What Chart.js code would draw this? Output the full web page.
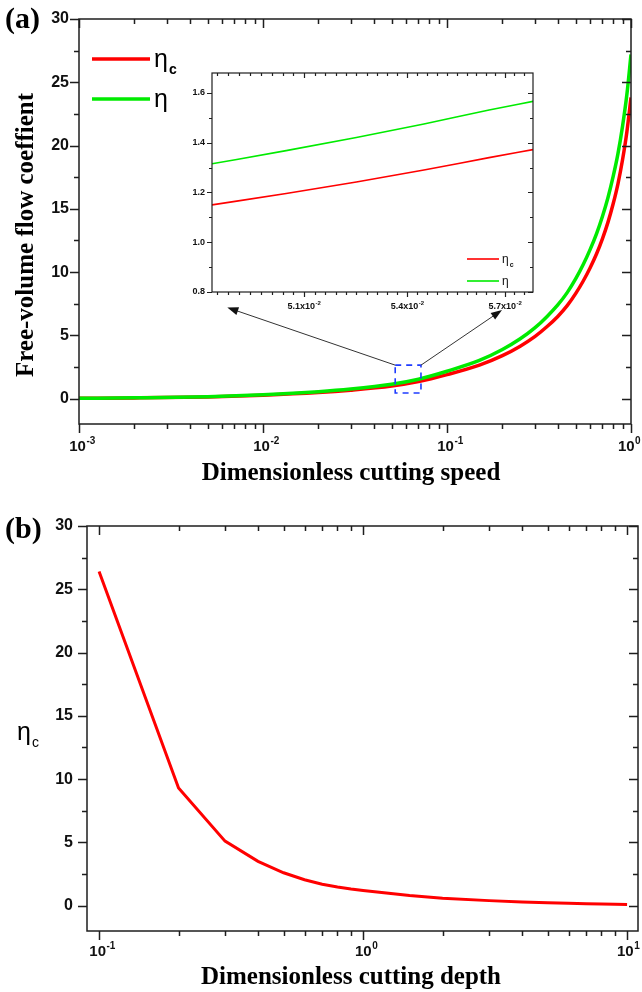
<!DOCTYPE html>
<html>
<head>
<meta charset="utf-8">
<script src="https://cdn.jsdelivr.net/npm/chart.js@4.4.1/dist/chart.umd.min.js"></script>
<style>
  body { margin: 0; background: #fff; }
  #page { position: relative; width: 642px; height: 992px; }
  canvas { position: absolute; }
</style>
</head>
<body>
<div id="page">
  <canvas id="chartA" width="642" height="490" style="left:0;top:0"></canvas>
  <canvas id="inset" width="360" height="260" style="left:180px;top:60px"></canvas>
  <canvas id="chartB" width="642" height="492" style="left:0;top:500px"></canvas>
</div>
<script>
// panel (a): free-volume flow coefficient vs dimensionless cutting speed
const speed = [0.001, 0.002, 0.005, 0.01, 0.02, 0.03, 0.05, 0.07, 0.1, 0.15, 0.2, 0.25, 0.3, 0.35, 0.4, 0.45, 0.5,
               0.55, 0.6, 0.65, 0.7, 0.75, 0.8, 0.85, 0.9, 0.95, 1.0];
const etaC  = [0.03, 0.06, 0.14, 0.27, 0.48, 0.67, 1.0, 1.35, 1.9, 2.65, 3.4, 4.15, 4.9, 5.7, 6.5, 7.35, 8.3,
               9.3, 10.35, 11.45, 12.65, 13.95, 15.4, 17.0, 18.9, 21.1, 23.8];
const eta   = [0.03, 0.07, 0.16, 0.31, 0.55, 0.76, 1.14, 1.54, 2.17, 3.02, 3.88, 4.73, 5.59, 6.5, 7.41, 8.38, 9.46,
               10.6, 11.8, 13.05, 14.42, 15.9, 17.56, 19.38, 21.55, 24.05, 27.2];

// inset of panel (a)
const insetSpeed = [0.04847, 0.0505, 0.0525, 0.0545, 0.0565, 0.05789];
const insetEtaC  = [1.150, 1.196, 1.242, 1.290, 1.340, 1.372];
const insetEta   = [1.315, 1.368, 1.421, 1.475, 1.531, 1.566];

// panel (b): eta_c vs dimensionless cutting depth
const depth     = [0.1, 0.2, 0.3, 0.4, 0.5, 0.6, 0.7, 0.8, 0.9, 1, 1.5, 2, 3, 4, 5, 6, 7, 8, 9, 10];
const etaCDepth = [26.4, 9.3, 5.1, 3.5, 2.6, 2.05, 1.7, 1.48, 1.32, 1.2, 0.8, 0.58, 0.4, 0.3, 0.23, 0.19, 0.16, 0.14, 0.12, 0.1];

// tick labels
const speedDecades = [0.001, 0.01, 0.1, 1];
const speedExp = ['-3', '-2', '-1', '0'];
const depthDecades = [0.1, 1, 10];
const depthExp = ['-1', '0', '1'];
const yTicks = [0, 5, 10, 15, 20, 25, 30];
const insetXTicks = [0.051, 0.054, 0.057];
const insetXLabels = ['5.1x10', '5.4x10', '5.7x10'];
const insetYTicks = [0.8, 1.0, 1.2, 1.4, 1.6];

const seriesNames = ['η', 'η'];
const seriesSubs = ['c', ''];
const RED = 'rgb(255,0,0)';
const GREEN = 'rgb(0,235,0)';

// zoom box and arrow tips (in data units of panel a)
const zoomBox = { x: [0.0523, 0.0722], y: [0.45, 2.65] };
const arrowTips = [[0.0064, 7.2], [0.199, 7.0]];

function logMinors(decades) {
  const out = [];
  decades.slice(0, -1).forEach(d => {
    for (let k = 2; k <= 9; k++) out.push(d * k);
  });
  return out;
}
function halves(list) {
  const out = [];
  for (let i = 0; i < list.length - 1; i++) out.push((list[i] + list[i + 1]) / 2);
  return out;
}
function stepMinors(from, to, step) {
  const out = [];
  for (let v = from; v <= to + 1e-9; v += step) out.push(+v.toFixed(5));
  return out;
}

const SANS = '"Liberation Sans", Arial, sans-serif';
const SERIF = '"Liberation Serif", "Times New Roman", serif';

function supText(ctx, x, y, base, sup, size, supSize, align) {
  ctx.font = `bold ${size}px ${SANS}`;
  const w1 = ctx.measureText(base).width;
  ctx.font = `bold ${supSize}px ${SANS}`;
  const w2 = ctx.measureText(sup).width;
  const x0 = align === 'center' ? x - (w1 + w2) / 2 : x;
  ctx.textAlign = 'left';
  ctx.textBaseline = 'alphabetic';
  ctx.font = `bold ${size}px ${SANS}`;
  ctx.fillText(base, x0, y);
  ctx.font = `bold ${supSize}px ${SANS}`;
  ctx.fillText(sup, x0 + w1 + 0.5, y - size * 0.45);
}

function subText(ctx, x, y, base, sub, font, subFont, drop) {
  ctx.textAlign = 'left';
  ctx.textBaseline = 'alphabetic';
  ctx.font = font;
  ctx.fillText(base, x, y);
  const w = ctx.measureText(base).width;
  ctx.font = subFont;
  ctx.fillText(sub, x + w + 1, y + drop);
}

// frame with ticks on all four sides: outward at left/bottom, inward at top/right
function tickFrame(o) {
  return {
    id: 'tickFrame',
    afterDraw(chart) {
      const { ctx, chartArea: a } = chart;
      const x = chart.scales.x, y = chart.scales.y;
      ctx.save();
      ctx.strokeStyle = '#1e1e1e';
      ctx.lineWidth = o.lw;
      ctx.beginPath();
      const xs = (list, len) => list.forEach(v => {
        const p = Math.round(x.getPixelForValue(v)) + 0.5;
        if (p < a.left - 1 || p > a.right + 1) return;
        ctx.moveTo(p, a.bottom); ctx.lineTo(p, a.bottom + len);
        ctx.moveTo(p, a.top); ctx.lineTo(p, a.top + len);
      });
      const ys = (list, len) => list.forEach(v => {
        const p = Math.round(y.getPixelForValue(v)) + 0.5;
        if (p < a.top - 1 || p > a.bottom + 1) return;
        ctx.moveTo(a.left, p); ctx.lineTo(a.left - len, p);
        ctx.moveTo(a.right, p); ctx.lineTo(a.right - len, p);
      });
      xs(o.xMajor, o.major); xs(o.xMinor, o.minor);
      ys(o.yMajor, o.major); ys(o.yMinor, o.minor);
      ctx.stroke();
      ctx.strokeRect(a.left, a.top, a.right - a.left, a.bottom - a.top);
      ctx.fillStyle = '#111';
      o.yMajor.forEach(v => {
        ctx.font = `bold ${o.yFont}px ${SANS}`;
        ctx.textAlign = 'right';
        ctx.textBaseline = 'middle';
        ctx.fillText(o.yLabel(v), a.left - o.major - o.yGap, y.getPixelForValue(v));
      });
      o.xMajor.forEach((v, i) => {
        const b = o.xLabel(i);
        const shift = o.xShift ? o.xShift(i) : 0;
        supText(ctx, x.getPixelForValue(v) + shift, a.bottom + o.xBase, b[0], b[1], o.xFont, o.xSupFont, 'center');
      });
      if (o.extra) o.extra(chart, ctx);
      ctx.restore();
    }
  };
}

function lineSet(label, xs, ys, color, width, order) {
  return {
    label: label,
    data: xs.map((v, i) => ({ x: v, y: ys[i] })),
    borderColor: color,
    borderWidth: width,
    pointRadius: 0,
    fill: false,
    order: order
  };
}

function baseOptions(xMin, xMax, yMin, yMax, w, h, pad) {
  return {
    responsive: false,
    devicePixelRatio: 1,
    animation: false,
    layout: { padding: pad },
    plugins: { legend: { display: false }, tooltip: { enabled: false } },
    elements: { line: { cubicInterpolationMode: 'monotone' } },
    scales: {
      x: {
        type: 'logarithmic', min: xMin, max: xMax,
        grid: { display: false }, border: { display: false },
        ticks: { display: false }, afterFit: s => { s.height = h; }
      },
      y: {
        type: 'linear', min: yMin, max: yMax,
        grid: { display: false }, border: { display: false },
        ticks: { display: false }, afterFit: s => { s.width = w; }
      }
    }
  };
}

// ---------- panel (a) ----------
new Chart(document.getElementById('chartA'), {
  type: 'line',
  data: {
    datasets: [
      lineSet('eta_c', speed, etaC, RED, 3.5, 1),
      lineSet('eta', speed, eta, GREEN, 3.5, 0)
    ]
  },
  options: baseOptions(0.001, 1, -2, 30, 79, 66, { left: 0, top: 19, right: 11, bottom: 0 }),
  plugins: [tickFrame({
    lw: 1.5, major: 9, minor: 5,
    xMajor: speedDecades, xMinor: logMinors(speedDecades),
    yMajor: yTicks, yMinor: halves(yTicks),
    yFont: 16, yGap: 1, yLabel: v => String(v),
    xFont: 15, xSupFont: 10, xBase: 27,
    xShift: i => (i === speedDecades.length - 1 ? -2 : 3),
    xLabel: i => ['10', speedExp[i]],
    extra(chart, ctx) {
      const x = chart.scales.x, y = chart.scales.y;
      // panel tag and axis titles
      ctx.fillStyle = '#000';
      ctx.font = `bold 30px ${SERIF}`;
      ctx.textAlign = 'left'; ctx.textBaseline = 'middle';
      ctx.fillText('(a)', 5, 20);
      ctx.font = `bold 25px ${SERIF}`;
      ctx.textAlign = 'center'; ctx.textBaseline = 'middle';
      ctx.fillText('Dimensionless cutting speed', 351, 474);
      ctx.save();
      ctx.translate(27, 235);
      ctx.rotate(-Math.PI / 2);
      ctx.fillText('Free-volume flow coeffient', 0, 0);
      ctx.restore();
      // legend
      const ds = chart.data.datasets;
      [0, 1].forEach(i => {
        const ly = 59 + 40 * i;
        ctx.strokeStyle = ds[i].borderColor;
        ctx.lineWidth = 3.5;
        ctx.beginPath(); ctx.moveTo(92, ly); ctx.lineTo(150, ly); ctx.stroke();
        ctx.fillStyle = '#000';
        subText(ctx, 154, ly + 8, seriesNames[i], seriesSubs[i], `25px ${SANS}`, `bold 14px ${SANS}`, 7);
      });
      // dashed zoom box
      const bx0 = x.getPixelForValue(zoomBox.x[0]), bx1 = x.getPixelForValue(zoomBox.x[1]);
      const by0 = y.getPixelForValue(zoomBox.y[1]), by1 = y.getPixelForValue(zoomBox.y[0]);
      ctx.strokeStyle = '#1f3cff';
      ctx.lineWidth = 1.6;
      ctx.setLineDash([6, 5]);
      ctx.strokeRect(bx0, by0, bx1 - bx0, by1 - by0);
      ctx.setLineDash([]);
      // arrows from the box to the inset
      const starts = [[bx0, by0], [bx1, by0]];
      arrowTips.forEach((t, i) => {
        const tx = x.getPixelForValue(t[0]), ty = y.getPixelForValue(t[1]);
        const sx = starts[i][0], sy = starts[i][1];
        const ang = Math.atan2(ty - sy, tx - sx);
        ctx.strokeStyle = '#333'; ctx.fillStyle = '#111';
        ctx.lineWidth = 1;
        ctx.beginPath(); ctx.moveTo(sx, sy); ctx.lineTo(tx - 6 * Math.cos(ang), ty - 6 * Math.sin(ang)); ctx.stroke();
        ctx.beginPath();
        ctx.moveTo(tx, ty);
        ctx.lineTo(tx - 11 * Math.cos(ang) + 4 * Math.sin(ang), ty - 11 * Math.sin(ang) - 4 * Math.cos(ang));
        ctx.lineTo(tx - 11 * Math.cos(ang) - 4 * Math.sin(ang), ty - 11 * Math.sin(ang) + 4 * Math.cos(ang));
        ctx.closePath(); ctx.fill();
      });
    }
  })]
});

// ---------- inset ----------
new Chart(document.getElementById('inset'), {
  type: 'line',
  data: {
    datasets: [
      lineSet('eta_c', insetSpeed, insetEtaC, RED, 1.6, 1),
      lineSet('eta', insetSpeed, insetEta, GREEN, 1.6, 0)
    ]
  },
  options: baseOptions(0.04847, 0.05789, 0.8, 1.68, 32, 28, { left: 0, top: 13, right: 7, bottom: 0 }),
  plugins: [{
    id: 'insetBg',
    beforeDraw(chart) {
      const { ctx, chartArea: a } = chart;
      ctx.save(); ctx.fillStyle = '#fff';
      ctx.fillRect(a.left, a.top, a.right - a.left, a.bottom - a.top);
      ctx.restore();
    }
  }, tickFrame({
    lw: 1.2, major: 5, minor: 3,
    xMajor: insetXTicks, xMinor: stepMinors(0.0486, 0.0576, 0.0003),
    yMajor: insetYTicks, yMinor: halves(insetYTicks),
    yFont: 9, yGap: 2, yLabel: v => v.toFixed(1),
    xFont: 9, xSupFont: 6, xBase: 17,
    xLabel: i => [insetXLabels[i], '-2'],
    extra(chart, ctx) {
      const ds = chart.data.datasets;
      [0, 1].forEach(i => {
        const ly = 199 + 22 * i;
        ctx.strokeStyle = ds[i].borderColor;
        ctx.lineWidth = 1.6;
        ctx.beginPath(); ctx.moveTo(287, ly); ctx.lineTo(319, ly); ctx.stroke();
        ctx.fillStyle = '#111';
        subText(ctx, 322, ly + 4, seriesNames[i], seriesSubs[i], `12px ${SANS}`, `bold 7px ${SANS}`, 4);
      });
    }
  })]
});

// ---------- panel (b) ----------
const optsB = baseOptions(0.09, 11, -2, 30, 87, 61, { left: 0, top: 26, right: 4, bottom: 0 });
optsB.elements.line.cubicInterpolationMode = 'default';
optsB.elements.line.tension = 0;
new Chart(document.getElementById('chartB'), {
  type: 'line',
  data: {
    datasets: [lineSet('eta_c', depth, etaCDepth, RED, 3, 0)]
  },
  options: optsB,
  plugins: [tickFrame({
    lw: 1.5, major: 9, minor: 5,
    xMajor: depthDecades, xMinor: logMinors(depthDecades),
    yMajor: yTicks, yMinor: halves(yTicks),
    yFont: 16, yGap: 5, yLabel: v => String(v),
    xFont: 15, xSupFont: 10, xBase: 25,
    xShift: i => (i === depthDecades.length - 1 ? 1 : 3),
    xLabel: i => ['10', depthExp[i]],
    extra(chart, ctx) {
      ctx.fillStyle = '#000';
      ctx.font = `bold 30px ${SERIF}`;
      ctx.textAlign = 'left'; ctx.textBaseline = 'middle';
      ctx.fillText('(b)', 5, 30);
      ctx.font = `bold 25px ${SERIF}`;
      ctx.textAlign = 'center'; ctx.textBaseline = 'middle';
      ctx.fillText('Dimensionless cutting depth', 351, 478);
      subText(ctx, 17, 240, 'η', 'c', `25px ${SANS}`, `14px ${SANS}`, 7);
    }
  })]
});
</script>
</body>
</html>
